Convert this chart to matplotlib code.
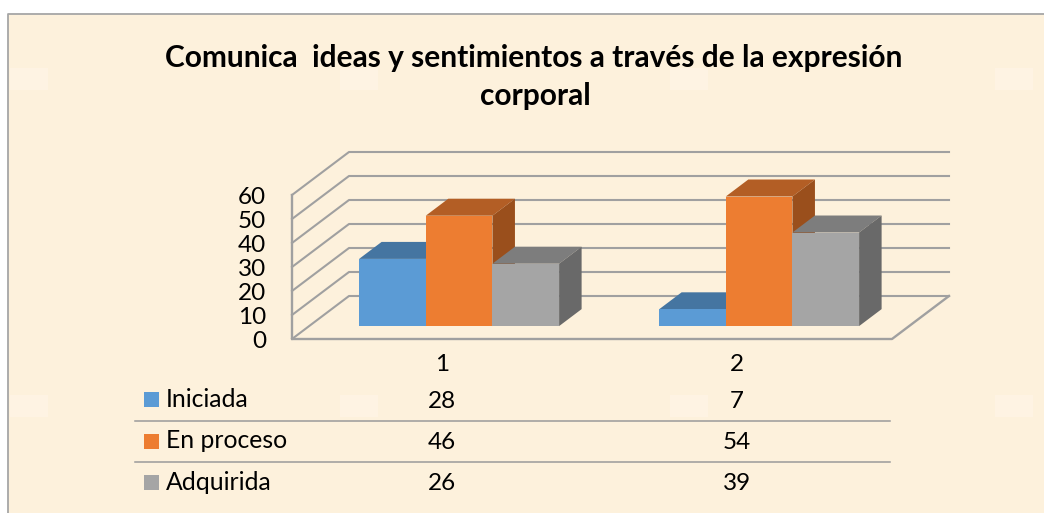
import matplotlib
matplotlib.use("Agg")
import matplotlib.pyplot as plt

# --------------------------------------
# DATA
# --------------------------------------

title_lines = ["Comunica  ideas y sentimientos a través de la expresión", "corporal"]
categories = ["1", "2"]
series = ["Iniciada", "En proceso", "Adquirida"]
iniciada = [28, 7]
en_proceso = [46, 54]
adquirida = [26, 39]
y_ticks = [0, 10, 20, 30, 40, 50, 60]

front_colors = ["#5B9BD5", "#ED7D31", "#A5A5A5"]
top_colors = ["#4575A1", "#B35E25", "#7D7D7D"]
side_colors = ["#3D6690", "#9A4F1C", "#696969"]

plt.rcParams["font.family"] = ["Lato", "DejaVu Sans"]

fig = plt.figure(figsize=(10.44, 5.13), dpi=100, facecolor="white")
ax = fig.add_axes([0, 0, 1, 1])
ax.set_xlim(0, 1044)
ax.set_ylim(513, 0)
ax.axis("off")

# --------------------------------------
# BACKGROUND
# --------------------------------------

ax.fill_between([8, 1044], 14, 513, color="#FDF1DC", lw=0, zorder=0)
ax.plot([8, 8, 1044], [513, 14, 14], color="#A6A6A6", lw=1.3, zorder=1)

# pale smudges of the paper texture
for sx in [10, 340, 670, 995]:
    for sy in [68, 395]:
        ax.fill_between([sx, sx + 38], sy, sy + 22, color="#FEF3E3", lw=0, zorder=0.5)


# --------------------------------------
# 3D PROJECTION (x in categories, v in value units, d = depth 0..1)
# --------------------------------------

def project(x, v, d):
    return 292 + 300 * x + 57 * d, 339 - 2.4 * v - 43 * d


grid_color = "#A0A0A0"

for t in y_ticks:
    p0 = project(0, t, 0)
    p1 = project(0, t, 1)
    p2 = project(2, t, 1)
    ax.plot([p0[0], p1[0], p2[0]], [p0[1], p1[1], p2[1]], color=grid_color, lw=1.5, zorder=2)
    ax.text(266, p0[1] + 2.5, str(t), ha="right", va="center", fontsize=17.5, color="black")

# side wall edge and floor
p0 = project(0, 60, 0)
p1 = project(0, 0, 0)
p2 = project(2, 0, 0)
p3 = project(2, 0, 1)
ax.plot([p0[0], p1[0], p2[0], p3[0]], [p0[1], p1[1], p2[1], p3[1]], color=grid_color, lw=1.7, zorder=2)

# --------------------------------------
# BARS
# --------------------------------------

bar_w = 2 / 9
gap = 1 / 6
d0, d1 = 0.30, 0.695
values = [iniciada, en_proceso, adquirida]


def face(points, color, z):
    xs = [project(*p)[0] for p in points]
    ys = [project(*p)[1] for p in points]
    ax.fill(xs, ys, color=color, lw=0, zorder=z)


z = 3
for c in range(len(categories)):
    for s in range(len(series)):
        v = values[s][c]
        a = c + gap + s * bar_w
        b = a + bar_w
        face([(a, v, d0), (b, v, d0), (b, v, d1), (a, v, d1)], top_colors[s], z)
        face([(b, 0, d0), (b, v, d0), (b, v, d1), (b, 0, d1)], side_colors[s], z)
        face([(a, 0, d0), (b, 0, d0), (b, v, d0), (a, v, d0)], front_colors[s], z)
        z += 1

# --------------------------------------
# DATA TABLE
# --------------------------------------

cat_x = [442, 737]
row_y = [392, 433.5, 475]

for x, c in zip(cat_x, categories):
    ax.text(x, 364.5, c, ha="center", va="center", fontsize=17.5)

for i, name in enumerate(series):
    y = row_y[i]
    ax.fill([144, 159, 159, 144], [y, y, y + 15, y + 15], color=front_colors[i], lw=0)
    ax.text(166, y + 7.5, name, ha="left", va="center", fontsize=17.8)
    for x, v in zip(cat_x, values[i]):
        ax.text(x, y + 9, str(v), ha="center", va="center", fontsize=17.5)

for y in [420.7, 462.3]:
    ax.plot([135, 890], [y, y], color="#9A9A9A", lw=1.1)

ax.text(534, 57.5, title_lines[0], ha="center", va="center", fontsize=21.5, fontweight="bold", color="black")
ax.text(535, 96, title_lines[1], ha="center", va="center", fontsize=21.5, fontweight="bold", color="black")

fig.savefig("out.png", dpi=100)
